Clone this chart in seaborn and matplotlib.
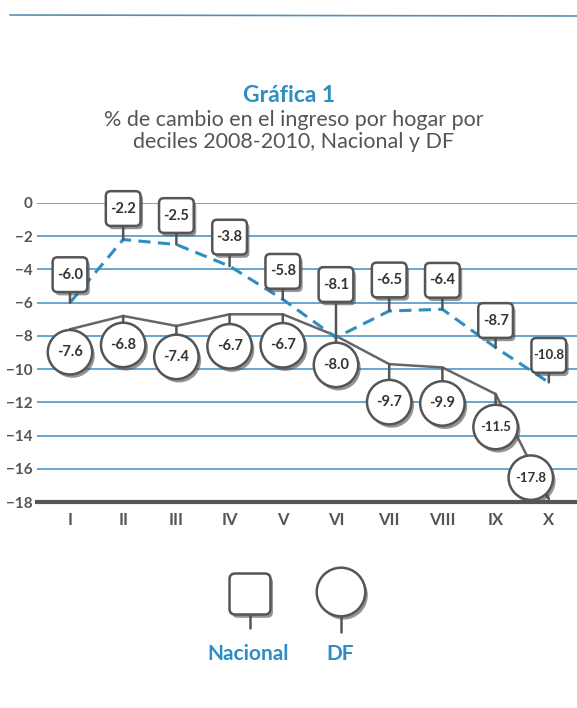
import numpy as np
import matplotlib
matplotlib.use("Agg")
import matplotlib.pyplot as plt
import seaborn as sns
from matplotlib import patheffects as pe
from matplotlib.transforms import offset_copy
from matplotlib.lines import Line2D
from matplotlib.patches import FancyBboxPatch

# datos
deciles  = ["I", "II", "III", "IV", "V", "VI", "VII", "VIII", "IX", "X"]
nacional = [-6.0, -2.2, -2.5, -3.8, -5.8, -8.1, -6.5, -6.4, -8.7, -10.8]
df_vals  = [-7.6, -6.8, -7.4, -6.7, -6.7, -8.0, -9.7, -9.9, -11.5, -17.8]
y_ticks  = [0, -2, -4, -6, -8, -10, -12, -14, -16, -18]

# desplazamiento de las etiquetas (pixeles)
nac_off = [(0, 28), (0, 31), (0, 29), (0, 29), (0, 28), (0, 53), (0, 31), (0, 29), (0, 27), (0, 27)]
df_off  = [(0, -23), (0, -29), (0, -31), (0, -32), (0, -31), (0, -29), (0, -38), (0, -36), (0, -33), (-18, 21)]

TEAL  = "#2f8dc2"
GRID  = "#3f8fc4"
DARK  = "#555555"
LINEG = "#666666"

sns.set_theme(style="white")
plt.rcParams["font.family"] = ["Lato", "DejaVu Sans"]

# cuadro con esquinas redondeadas como marcador
ROUND_SQ = FancyBboxPatch((-0.5, -0.5), 1, 1,
                          boxstyle="round,pad=0,rounding_size=0.14").get_path()

W, H = 577, 708
fig = plt.figure(figsize=(W / 100, H / 100), dpi=100)
fig.patch.set_facecolor("white")
ax = fig.add_axes([37 / W, 1 - 502 / H, 540 / W, 299 / H])

pos = np.arange(len(deciles))

sns.lineplot(x=pos, y=df_vals, color=LINEG, lw=1.8, ax=ax, legend=False, zorder=2)
sns.lineplot(x=pos, y=nacional, color=TEAL, lw=2.2, linestyle=(0, (4, 2.4)),
             ax=ax, legend=False, zorder=3)

ax.set_ylim(-18, 0)
ax.set_xlim(-0.62, 9.53)
ax.set_yticks(y_ticks)
ax.set_xticks(pos)
ax.set_xticklabels(deciles)
ax.set_xticks(np.arange(-0.5, 9, 1), minor=True)
ax.yaxis.grid(True, color=GRID, lw=1.1)
ax.xaxis.grid(False)
ax.set_axisbelow(True)
for s in ["top", "right", "left"]:
    ax.spines[s].set_visible(False)
ax.spines["bottom"].set_color(DARK)
ax.spines["bottom"].set_linewidth(3)
ax.spines["bottom"].set_zorder(6)
ax.tick_params(axis="y", length=0, pad=3, labelsize=11, labelcolor=DARK)
ax.tick_params(axis="x", which="major", length=0, pad=7, labelsize=12, labelcolor=DARK)
ax.tick_params(axis="x", which="minor", length=4, width=1, color="#888888", direction="out")
for lbl in ax.get_yticklabels() + ax.get_xticklabels():
    lbl.set_fontweight("bold")
ax.set_xlabel("")
ax.set_ylabel("")

shadow = [pe.SimplePatchShadow(offset=(1.8, -2.4), shadow_rgbFace="0.3", alpha=0.6), pe.Normal()]


def callout(x, y, text, dx, dy, marker, ms, fs):
    ax.annotate("", xy=(x, y), xytext=(dx, dy), textcoords="offset pixels",
                arrowprops=dict(arrowstyle="-", color=DARK, lw=1.8, shrinkA=0, shrinkB=0),
                annotation_clip=False, zorder=4)
    tr = offset_copy(ax.transData, fig=fig, x=dx, y=dy, units="dots")
    ln, = ax.plot([x], [y], marker=marker, ms=ms, mfc="white", mec=DARK, mew=1.8,
                  ls="none", transform=tr, clip_on=False, zorder=5)
    ln.set_path_effects(shadow)
    ax.annotate(text, xy=(x, y), xytext=(dx, dy), textcoords="offset pixels",
                ha="center", va="center", fontsize=fs, fontweight="bold",
                color="#333333", annotation_clip=False, zorder=7)


for i, v in enumerate(nacional):
    dx, dy = nac_off[i]
    callout(i, v, f"{v:.1f}", dx, dy, ROUND_SQ, 25, 10.5 if v > -10 else 9.5)

for i, v in enumerate(df_vals):
    dx, dy = df_off[i]
    callout(i, v, f"{v:.1f}", dx, dy, "o", 32, 10.5 if v > -10 else 9.5)

# titulo
fig.text(289 / W, 1 - 95 / H, "Gráfica 1", ha="center", va="center",
         fontsize=16.5, fontweight="bold", color=TEAL)
fig.text(294 / W, 1 - 131 / H, "% de cambio en el ingreso por hogar por\ndeciles 2008-2010, Nacional y DF",
         ha="center", va="center", fontsize=15.5, color=DARK, linespacing=1.12)

# linea superior
fig.add_artist(Line2D([10 / W, 1], [1 - 15 / H, 1 - 16 / H], transform=fig.transFigure,
                      color="#5b8db0", lw=1.2))

# leyenda
def fx(px):
    return px / W


def fy(py):
    return 1 - py / H


fig.add_artist(Line2D([fx(250), fx(250)], [fy(612), fy(628)], transform=fig.transFigure,
                      color=DARK, lw=1.8))
sq = Line2D([fx(250)], [fy(594)], transform=fig.transFigure, marker=ROUND_SQ, ms=29.5,
            mfc="white", mec=DARK, mew=1.8, ls="none")
sq.set_path_effects(shadow)
fig.add_artist(sq)
fig.add_artist(Line2D([fx(341), fx(341)], [fy(612), fy(632)], transform=fig.transFigure,
                      color=DARK, lw=1.8))
ci = Line2D([fx(341)], [fy(592)], transform=fig.transFigure, marker="o", ms=35,
            mfc="white", mec=DARK, mew=1.8, ls="none")
ci.set_path_effects(shadow)
fig.add_artist(ci)
fig.text(fx(248), fy(654), "Nacional", ha="center", va="center", fontsize=15,
         fontweight="bold", color=TEAL)
fig.text(fx(340), fy(654), "DF", ha="center", va="center", fontsize=15,
         fontweight="bold", color=TEAL)

fig.savefig("out.png", dpi=100)
plt.close(fig)
